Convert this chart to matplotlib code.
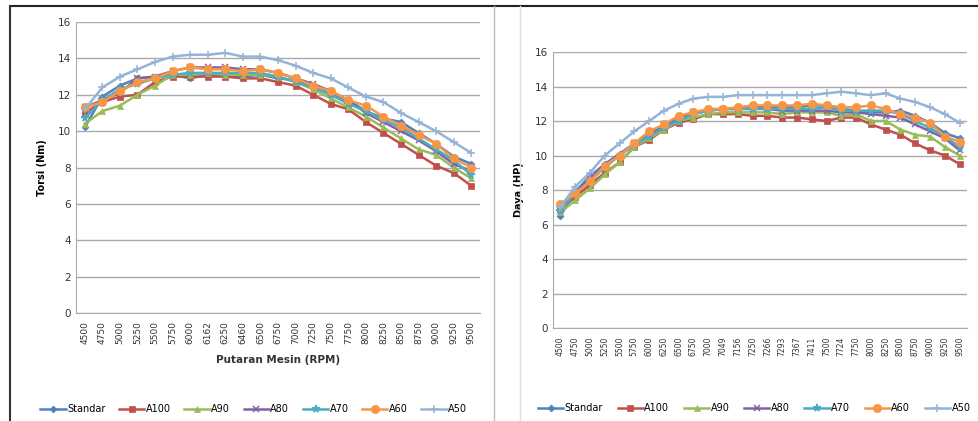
import matplotlib.pyplot as plt
from matplotlib.lines import Line2D
import numpy as np

# Torsi (kiri)
rpm_torsi = ['4500', '4750', '5000', '5250', '5500', '5750', '6000', '6162', '6250', '6460', '6500', '6750',
             '7000', '7250', '7500', '7750', '8000', '8250', '8500', '8750', '9000', '9250', '9500']
torsi_standar = [10.2, 11.9, 12.5, 12.9, 13.0, 13.1, 12.9, 13.1, 13.1, 13.0, 13.1, 12.9, 12.8, 12.5, 12.0, 11.7, 11.1, 10.7, 10.5, 9.9, 9.3, 8.6, 8.2]
torsi_a100 = [11.0, 11.6, 11.9, 12.0, 12.7, 13.0, 13.0, 13.0, 13.0, 12.9, 12.9, 12.7, 12.5, 12.0, 11.5, 11.2, 10.5, 9.9, 9.3, 8.7, 8.1, 7.7, 7.0]
torsi_a90 = [10.4, 11.1, 11.4, 12.0, 12.5, 13.1, 13.1, 13.2, 13.1, 13.1, 13.1, 13.0, 12.7, 12.3, 11.8, 11.3, 10.8, 10.2, 9.6, 9.0, 8.7, 8.0, 7.4]
torsi_a80 = [11.3, 11.7, 12.1, 12.9, 13.0, 13.3, 13.5, 13.5, 13.5, 13.4, 13.4, 13.2, 12.9, 12.6, 12.2, 11.7, 11.0, 10.5, 10.0, 9.5, 8.9, 8.2, 7.8]
torsi_a70 = [10.7, 11.7, 12.3, 12.6, 12.9, 13.1, 13.2, 13.2, 13.2, 13.2, 13.2, 13.0, 12.7, 12.4, 12.0, 11.5, 11.1, 10.6, 10.2, 9.6, 9.0, 8.4, 7.6]
torsi_a60 = [11.3, 11.6, 12.2, 12.7, 12.9, 13.3, 13.5, 13.4, 13.4, 13.3, 13.4, 13.2, 12.9, 12.5, 12.2, 11.7, 11.4, 10.8, 10.3, 9.8, 9.3, 8.5, 8.0]
torsi_a50 = [11.2, 12.4, 13.0, 13.4, 13.8, 14.1, 14.2, 14.2, 14.3, 14.1, 14.1, 13.9, 13.6, 13.2, 12.9, 12.4, 11.9, 11.6, 11.0, 10.5, 10.0, 9.4, 8.8]

# Daya (kanan)
rpm_daya = ['4500', '4750', '5000', '5250', '5500', '5750', '6000', '6250', '6500', '6750', '7000', '7049', '7156', '7250',
            '7266', '7293', '7367', '7411', '7500', '7724', '7750', '8000', '8250', '8500', '8750', '9000', '9250', '9500']
daya_standar = [6.5, 7.9, 8.8, 9.5, 10.1, 10.7, 11.1, 11.7, 12.1, 12.4, 12.6, 12.7, 12.7, 12.8, 12.8, 12.8, 12.8, 12.9, 12.9, 12.7, 12.6, 12.5, 12.5, 12.6, 12.3, 11.9, 11.3, 11.0]
daya_a100 = [6.9, 7.6, 8.3, 9.0, 9.6, 10.5, 10.9, 11.5, 11.9, 12.1, 12.4, 12.4, 12.4, 12.3, 12.3, 12.2, 12.2, 12.1, 12.0, 12.2, 12.2, 11.8, 11.5, 11.2, 10.7, 10.3, 10.0, 9.5]
daya_a90 = [6.7, 7.4, 8.1, 8.9, 9.6, 10.5, 11.0, 11.5, 12.0, 12.2, 12.4, 12.5, 12.5, 12.5, 12.5, 12.4, 12.5, 12.5, 12.5, 12.3, 12.4, 12.0, 12.0, 11.5, 11.2, 11.1, 10.5, 10.0]
daya_a80 = [7.0, 7.8, 8.6, 9.4, 10.0, 10.7, 11.2, 11.8, 12.2, 12.5, 12.6, 12.7, 12.7, 12.7, 12.7, 12.6, 12.6, 12.6, 12.6, 12.5, 12.5, 12.4, 12.3, 12.2, 11.8, 11.4, 11.0, 10.3]
daya_a70 = [6.8, 7.8, 8.5, 9.3, 10.0, 10.6, 11.1, 11.6, 12.0, 12.4, 12.6, 12.7, 12.7, 12.7, 12.7, 12.7, 12.7, 12.7, 12.8, 12.6, 12.6, 12.6, 12.6, 12.4, 12.0, 11.6, 11.1, 10.5]
daya_a60 = [7.2, 7.8, 8.5, 9.4, 10.0, 10.7, 11.4, 11.8, 12.3, 12.5, 12.7, 12.7, 12.8, 12.9, 12.9, 12.9, 12.9, 13.0, 12.9, 12.8, 12.8, 12.9, 12.7, 12.4, 12.2, 11.9, 11.1, 10.8]
daya_a50 = [7.0, 8.2, 9.0, 10.0, 10.7, 11.4, 12.0, 12.6, 13.0, 13.3, 13.4, 13.4, 13.5, 13.5, 13.5, 13.5, 13.5, 13.5, 13.6, 13.7, 13.6, 13.5, 13.6, 13.3, 13.1, 12.8, 12.4, 11.9]

nama = ['Standar', 'A100', 'A90', 'A80', 'A70', 'A60', 'A50']
warna = ['#4F81BD', '#C0504D', '#9BBB59', '#8064A2', '#4BACC6', '#F79646', '#95B3D7']
penanda = ['D', 's', '^', 'x', '*', 'o', '+']
ukuran = [3.5, 5, 5, 4.5, 5.5, 6, 6]

torsi = [torsi_standar, torsi_a100, torsi_a90, torsi_a80, torsi_a70, torsi_a60, torsi_a50]
daya = [daya_standar, daya_a100, daya_a90, daya_a80, daya_a70, daya_a60, daya_a50]

fig = plt.figure(figsize=(9.79, 4.21), dpi=100)

# garis bingkai seperti tangkapan layar
fig.add_artist(Line2D([10/979, 1], [1-6/421, 1-6/421], color='#222222', lw=1.5))
fig.add_artist(Line2D([10/979, 10/979], [0, 1-6/421], color='#333333', lw=1.5))
fig.add_artist(Line2D([494/979, 494/979], [0, 1-6/421], color='#bbbbbb', lw=1))
fig.add_artist(Line2D([520/979, 520/979], [0, 1-6/421], color='#dddddd', lw=1))


def gambar(ax, label_x, data, ylabel, xlabel, fs_tick):
    x = np.arange(len(label_x))
    for y, n, c, m, s in zip(data, nama, warna, penanda, ukuran):
        ax.plot(x, y, color=c, marker=m, markersize=s, lw=1.8, label=n,
                markeredgewidth=1.1 if m in ('x', '+', '*') else 0.5)
    ax.set_xlim(-0.5, len(label_x) - 0.5)
    ax.set_ylim(0, 16)
    ax.set_yticks(range(0, 17, 2))
    ax.set_xticks(x)
    ax.set_xticklabels(label_x, rotation=90, fontsize=fs_tick, color='#333333')
    ax.tick_params(axis='y', labelsize=7.5, length=0, colors='#333333')
    ax.tick_params(axis='x', length=0, pad=6)
    ax.grid(axis='y', color='#aaaaaa', lw=1)
    ax.set_axisbelow(True)
    for sp in ['top', 'right']:
        ax.spines[sp].set_visible(False)
    for sp in ['left', 'bottom']:
        ax.spines[sp].set_color('#aaaaaa')
    ax.set_ylabel(ylabel, fontsize=7, fontweight='bold', labelpad=8)
    if xlabel:
        ax.set_xlabel(xlabel, fontsize=7.5, fontweight='bold', labelpad=8, color='#333333')


ax1 = fig.add_axes([76/979, 1-313/421, 404/979, 291/421])
gambar(ax1, rpm_torsi, torsi, 'Torsi (Nm)', 'Putaran Mesin (RPM)', 6.5)
ax1.legend(loc='center', bbox_to_anchor=(0.44, -0.33), ncol=7, frameon=False,
           fontsize=7, handlelength=2.6, columnspacing=1.4, handletextpad=0.15)

ax2 = fig.add_axes([553/979, 1-328/421, 414/979, 276/421])
gambar(ax2, rpm_daya, daya, 'Daya (HP)', None, 5.5)
ax2.legend(loc='center', bbox_to_anchor=(0.486, -0.29), ncol=7, frameon=False,
           fontsize=7, handlelength=2.6, columnspacing=1.5, handletextpad=0.15)

fig.savefig('out.png', dpi=100)
